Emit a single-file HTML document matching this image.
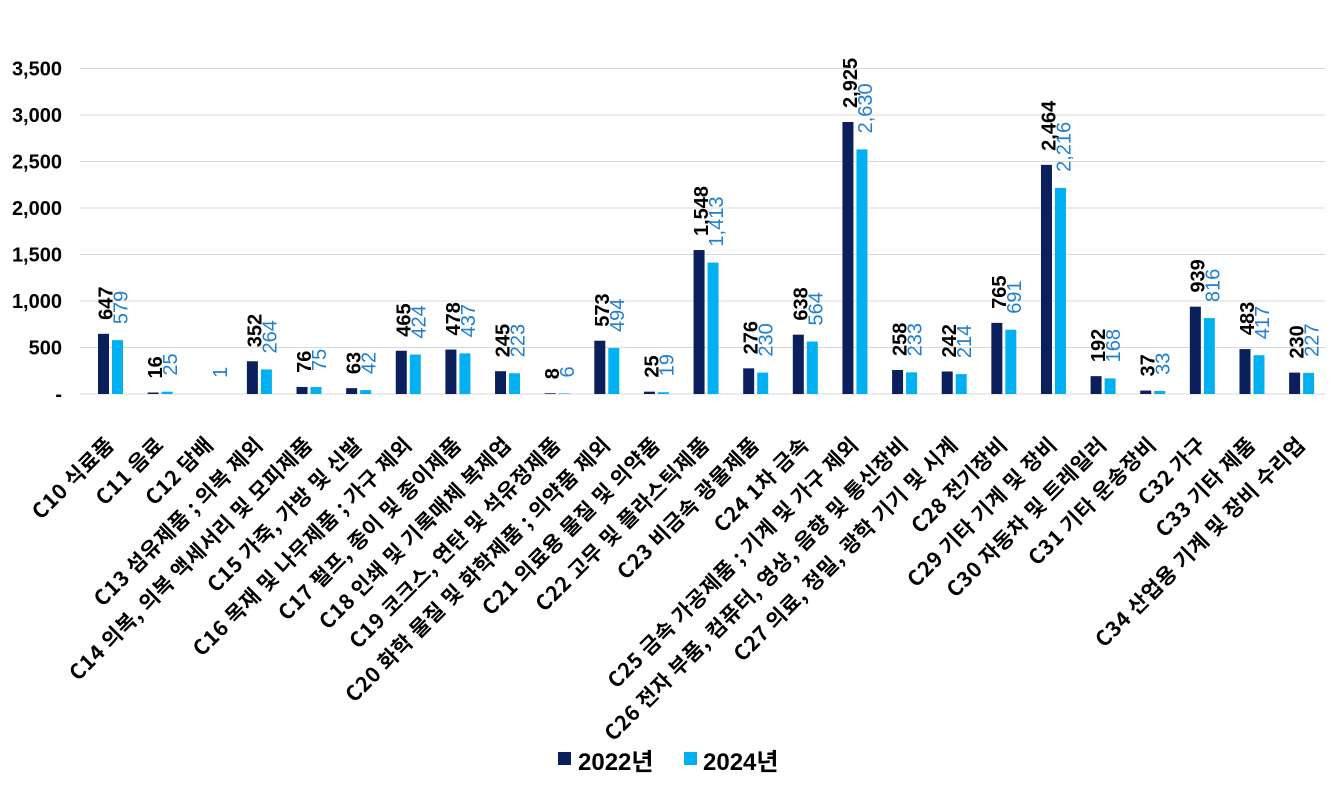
<!DOCTYPE html>
<html><head><meta charset="utf-8"><style>
html,body{margin:0;padding:0;background:#fff;}
svg{display:block;font-family:"Liberation Sans","Noto Sans CJK KR",sans-serif;}
.cat{font-family:"Noto Sans CJK KR","Liberation Sans",sans-serif;font-weight:bold;font-size:21px;letter-spacing:0.6px;}
</style></head><body>
<svg id="c" width="1340" height="785" xmlns="http://www.w3.org/2000/svg"></svg>
<script>
const cats=["C10 식료품","C11 음료","C12 담배","C13 섬유제품 ; 의복 제외","C14 의복, 의복 액세서리 및 모피제품","C15 가죽, 가방 및 신발","C16 목재 및 나무제품 ; 가구 제외","C17 펄프, 종이 및 종이제품","C18 인쇄 및 기록매체 복제업","C19 코크스, 연탄 및 석유정제품","C20 화학 물질 및 화학제품 ; 의약품 제외","C21 의료용 물질 및 의약품","C22 고무 및 플라스틱제품","C23 비금속 광물제품","C24 1차 금속","C25 금속 가공제품 ; 기계 및 가구 제외","C26 전자 부품, 컴퓨터, 영상, 음향 및 통신장비","C27 의료, 정밀, 광학 기기 및 시계","C28 전기장비","C29 기타 기계 및 장비","C30 자동차 및 트레일러","C31 기타 운송장비","C32 가구","C33 기타 제품","C34 산업용 기계 및 장비 수리업"];
const a=[647,16,null,352,76,63,465,478,245,8,573,25,1548,276,638,2925,258,242,765,2464,192,37,939,483,230];
const b=[579,25,1,264,75,42,424,437,223,6,494,19,1413,230,564,2630,233,214,691,2216,168,33,816,417,227];
const base=394, k=46.5/500;
let s='';
const fmt=v=>v.toLocaleString('en-US');
for(let i=0;i<=7;i++){const y=base-i*46.5;
 s+=`<line x1="80" x2="1325" y1="${y}" y2="${y}" stroke="#d9d9d9" stroke-width="1"/>`;
 s+=`<text x="62" y="${y+7}" text-anchor="end" font-size="20" font-weight="bold" fill="#000">${i==0?'-':fmt(i*500)}</text>`;}
for(let i=0;i<25;i++){const c=110.5+49.63*i;
 if(a[i]!=null){const h=a[i]*k;s+=`<rect x="${c-12.5}" y="${base-h}" width="11" height="${h}" fill="#0b1f5c"/>`;
  s+=`<text transform="translate(${c+2},${base-h-14}) rotate(-90)" font-size="20" font-weight="bold" fill="#000">${fmt(a[i])}</text>`;}
 if(b[i]!=null){const h=b[i]*k;s+=`<rect x="${c+1.5}" y="${base-h}" width="11" height="${h}" fill="#00b0f0"/>`;
  s+=`<text transform="translate(${c+17},${base-h-16}) rotate(-90)" font-size="20" fill="#1f7fd0">${fmt(b[i])}</text>`;}
 s+=`<text class="cat" transform="translate(${c+5},${446}) rotate(-45)" text-anchor="end" fill="#000">${cats[i]}</text>`;
}
s+=`<rect x="558" y="752" width="13" height="13" fill="#0b1f5c"/><text x="578" y="770" font-size="24" font-weight="bold">2022년</text>`;
s+=`<rect x="684" y="752" width="13" height="13" fill="#00b0f0"/><text x="703" y="770" font-size="24" font-weight="bold">2024년</text>`;
document.getElementById('c').innerHTML=s;
</script>
</body></html>
